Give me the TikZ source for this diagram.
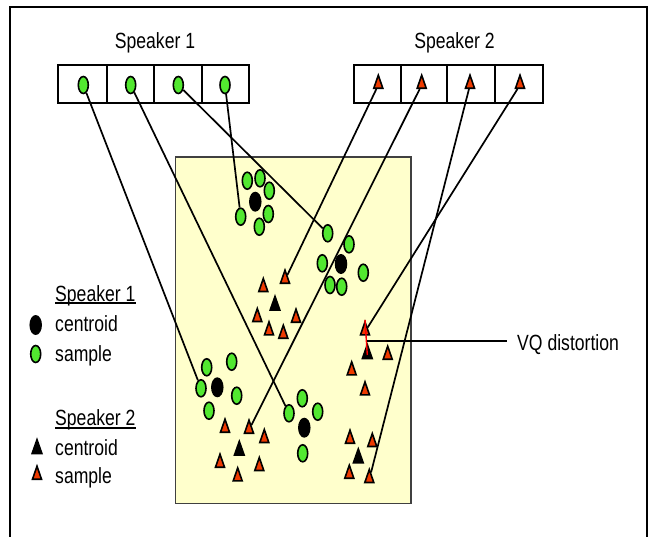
\documentclass[tikz,border=0pt]{standalone}
\usepackage{fontspec}
\setmainfont{Liberation Sans}[FakeStretch=0.8]
\usetikzlibrary{shapes.geometric}

\definecolor{padyellow}{RGB}{255,255,204}
\definecolor{smpgreen}{RGB}{82,232,48}
\definecolor{smpred}{RGB}{238,58,0}

\tikzset{
  lbl/.style={font=\fontsize{22}{26}\selectfont, inner sep=0pt},
  spkone/.style={ellipse, draw=black, line width=1.6pt, fill=smpgreen, inner sep=0pt, minimum width=10pt, minimum height=17pt},
  cenone/.style={ellipse, fill=black, inner sep=0pt, minimum width=12.5pt, minimum height=20pt},
  spktwo/.style={isosceles triangle, isosceles triangle stretches, shape border rotate=90, draw=black, line width=1.6pt, fill=smpred, inner sep=0pt, minimum width=9pt, minimum height=13pt},
  centwo/.style={isosceles triangle, isosceles triangle stretches, shape border rotate=90, fill=black, inner sep=0pt, minimum width=12pt, minimum height=17pt},
  link/.style={black, line width=1.7pt},
  cellbox/.style={black, line width=1.7pt}
}

\begin{document}
\begin{tikzpicture}[x=1pt, y=-1pt]
  \useasboundingbox (0,0) rectangle (656,536);
  % frame and feature space
  \draw[line width=2.6pt] (10,545) -- (10,7) -- (647,7) -- (647,545);
  \draw[fill=padyellow, draw=black!75, line width=1.6pt] (175.5,157) rectangle (411,503.5);

  % codebooks
  \node[lbl, anchor=base] (title1) at (155,48) {Speaker 1};
  \node[lbl, anchor=base] (title2) at (454.5,48) {Speaker 2};
  \draw[cellbox] (58,65) rectangle (249,103);
  \draw[cellbox] (106.7,65) -- (106.7,103);
  \draw[cellbox] (154,65) -- (154,103);
  \draw[cellbox] (201.7,65) -- (201.7,103);
  \draw[cellbox] (354,65) rectangle (543,103);
  \draw[cellbox] (401,65) -- (401,103);
  \draw[cellbox] (447,65) -- (447,103);
  \draw[cellbox] (495,65) -- (495,103);
  \node[spkone] (s1a) at (83.3,85) {};
  \node[spkone] (s1b) at (130.7,85) {};
  \node[spkone] (s1c) at (178.3,85) {};
  \node[spkone] (s1d) at (225,85) {};
  \node[spktwo] (s2a) at (378.3,85) {};
  \node[spktwo] (s2b) at (421.7,85) {};
  \node[spktwo] (s2c) at (470,85) {};
  \node[spktwo] (s2d) at (520,85) {};

  % speaker 1 clusters
  \node[cenone] (ga0) at (255.3,201.7) {};
  \node[spkone] (ga1) at (247.3,180.7) {};
  \node[spkone] (ga2) at (260,178.3) {};
  \node[spkone] (ga3) at (269.3,190.7) {};
  \node[spkone] (ga4) at (268.3,214) {};
  \node[spkone] (ga5) at (259.3,226.7) {};
  \node[spkone] (ga6) at (240.7,216.7) {};
  \node[cenone] (gb0) at (341,264) {};
  \node[spkone] (gb1) at (327.7,233.3) {};
  \node[spkone] (gb2) at (349,244.3) {};
  \node[spkone] (gb3) at (322.3,263.3) {};
  \node[spkone] (gb4) at (363.3,272.7) {};
  \node[spkone] (gb5) at (330,285) {};
  \node[spkone] (gb6) at (341.7,286.7) {};
  \node[cenone] (gc0) at (217.3,387.3) {};
  \node[spkone] (gc1) at (206.7,367.3) {};
  \node[spkone] (gc2) at (231.7,361.7) {};
  \node[spkone] (gc3) at (201,388.3) {};
  \node[spkone] (gc4) at (236.7,395.7) {};
  \node[spkone] (gc5) at (209,410.7) {};
  \node[cenone] (gd0) at (304.3,427.7) {};
  \node[spkone] (gd1) at (302.3,398.3) {};
  \node[spkone] (gd2) at (317.7,411.7) {};
  \node[spkone] (gd3) at (289,413.3) {};
  \node[spkone] (gd4) at (302.7,453.3) {};

  % speaker 2 clusters
  \node[centwo] (ra0) at (275,306.7) {};
  \node[spktwo] (ra1) at (285,280) {};
  \node[spktwo] (ra2) at (263.3,288.3) {};
  \node[spktwo] (ra3) at (257.3,318.3) {};
  \node[spktwo] (ra4) at (296,319) {};
  \node[spktwo] (ra5) at (269,331.7) {};
  \node[spktwo] (ra6) at (283.3,335) {};
  \node[centwo] (rb0) at (367.3,355) {};
  \node[spktwo] (rb1) at (365,331.7) {};
  \node[spktwo] (rb2) at (387.7,356) {};
  \node[spktwo] (rb3) at (351.7,371.7) {};
  \node[spktwo] (rb4) at (365,391.7) {};
  \node[centwo] (rc0) at (239.3,451.7) {};
  \node[spktwo] (rc1) at (225,429) {};
  \node[spktwo] (rc2) at (249,430) {};
  \node[spktwo] (rc3) at (264.3,439.3) {};
  \node[spktwo] (rc4) at (220,464) {};
  \node[spktwo] (rc5) at (259.3,467.3) {};
  \node[spktwo] (rc6) at (237.7,477.7) {};
  \node[centwo] (rd0) at (358.3,459.3) {};
  \node[spktwo] (rd1) at (350,440) {};
  \node[spktwo] (rd2) at (372.3,443.3) {};
  \node[spktwo] (rd3) at (349.3,475) {};
  \node[spktwo] (rd4) at (369.3,479.3) {};

  % codewords to samples
  \draw[link] (s1a) -- (gc3);
  \draw[link] (s1b) -- (gd3);
  \draw[link] (s1c) -- (gb1);
  \draw[link] (s1d) -- (ga6);
  \draw[link] (s2a) -- (ra1);
  \draw[link] (s2b) -- (rc2);
  \draw[link] (s2c) -- (rd4);
  \draw[link] (s2d) -- (rb1);

  % distortion
  \draw[red, line width=1.4pt] (rb1.north) -- (rb0.center);
  \coordinate (vqmid) at (366.5,341);
  \node[lbl, anchor=base west] (vqlbl) at (517,350) {VQ distortion};
  \draw[link] (vqmid) -- ([xshift=-10pt]vqlbl.west |- vqmid);

  % legend
  \node[lbl, anchor=base west] (leg1) at (55,301) {Speaker 1};
  \draw[black, line width=1.4pt] ([yshift=-2pt]leg1.base west) -- ([yshift=-2pt]leg1.base east);
  \node[cenone] (leg1c) at (35.7,325) {};
  \node[lbl, anchor=base west] (leg1ct) at (55,331.5) {centroid};
  \node[spkone] (leg1s) at (35.7,354) {};
  \node[lbl, anchor=base west] (leg1st) at (55,361) {sample};
  \node[lbl, anchor=base west] (leg2) at (55,425) {Speaker 2};
  \draw[black, line width=1.4pt] ([yshift=-3pt]leg2.base west) -- ([yshift=-3pt]leg2.base east);
  \node[centwo] (leg2c) at (37,450) {};
  \node[lbl, anchor=base west] (leg2ct) at (55,455) {centroid};
  \node[spktwo] (leg2s) at (37,476) {};
  \node[lbl, anchor=base west] (leg2st) at (55,483) {sample};
\end{tikzpicture}
\end{document}
